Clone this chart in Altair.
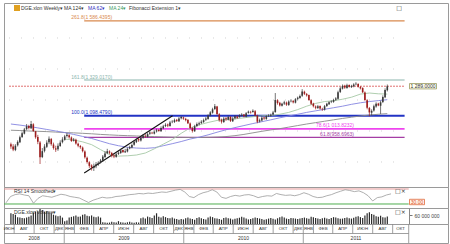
import altair as alt
import pandas as pd

# ---------------- data ----------------
first_week = "2008-07-07"

close = [900,880,905,930,960,985,1010,1030,1020,1045,1000,960,
         930,830,870,900,925,950,915,890,880,905,925,945,
         965,975,960,935,945,920,905,895,870,830,800,775,
         765,770,785,795,810,835,855,870,860,840,835,850,
         860,875,865,870,885,895,910,930,945,940,955,970,
         965,980,990,985,995,1005,1000,1020,1030,1040,1035,1055,
         1060,1070,1065,1080,1090,1080,1070,1050,1020,1000,1030,1045,
         1050,1060,1070,1080,1100,1120,1140,1160,1110,1070,1060,1080,
         1075,1090,1065,1080,1095,1085,1100,1105,1095,1115,1125,1120,
         1130,1100,1060,1070,1085,1080,1095,1100,1105,1120,1200,1180,
         1165,1175,1185,1170,1190,1195,1185,1205,1215,1225,1255,1240,
         1230,1200,1175,1160,1150,1160,1145,1140,1160,1175,1185,1190,
         1200,1210,1250,1275,1290,1280,1295,1285,1290,1300,1305,1285,
         1275,1250,1200,1150,1120,1130,1160,1175,1165,1185,1220,1265,
         1289]
open_ = [915,900,878,908,928,962,983,1012,1032,1018,1043,998,
         962,925,832,872,898,928,948,913,888,882,903,928,
         943,968,973,958,937,943,918,903,893,868,828,798,
         778,762,772,783,797,808,833,857,868,858,842,833,
         852,858,877,863,868,887,893,912,928,947,938,957,
         968,963,982,988,983,997,1007,998,1018,1032,1042,1033,
         1057,1058,1072,1063,1082,1088,1078,1072,1048,1018,998,1032,
         1043,1052,1058,1072,1078,1102,1118,1142,1158,1108,1072,1058,
         1082,1073,1092,1063,1082,1093,1087,1098,1107,1093,1117,1123,
         1122,1128,1098,1062,1068,1087,1078,1097,1098,1107,1122,1198,
         1182,1163,1177,1183,1168,1192,1193,1183,1207,1213,1227,1253,
         1238,1232,1198,1177,1158,1148,1162,1143,1138,1162,1173,1187,
         1188,1202,1208,1252,1273,1292,1278,1297,1283,1288,1302,1303,
         1283,1277,1248,1198,1148,1118,1132,1158,1177,1163,1187,1218,
         1263]
high = [925,915,915,940,970,995,1020,1045,1040,1065,1050,1000,
        975,935,890,915,940,965,955,925,905,920,940,960,
        975,987,980,965,955,950,925,910,900,875,835,805,
        785,790,800,805,820,845,870,885,875,865,850,860,
        870,885,880,885,895,905,920,940,955,955,965,980,
        980,990,1000,995,1005,1015,1012,1030,1040,1050,1048,1065,
        1070,1080,1078,1090,1097,1092,1085,1075,1055,1025,1040,1055,
        1060,1070,1080,1090,1108,1128,1150,1174,1162,1115,1080,1090,
        1090,1100,1095,1090,1102,1100,1108,1115,1110,1122,1132,1130,
        1140,1135,1105,1080,1095,1092,1102,1108,1112,1130,1245,1205,
        1188,1182,1195,1190,1198,1205,1200,1212,1222,1235,1270,1260,
        1245,1235,1205,1182,1165,1168,1165,1150,1168,1182,1192,1198,
        1208,1218,1260,1285,1300,1298,1305,1300,1298,1308,1315,1308,
        1290,1282,1255,1205,1155,1140,1170,1185,1182,1195,1230,1275,
        1300]
low = [885,870,870,900,922,955,978,1005,1010,1012,995,950,
       915,787,825,862,890,915,905,880,865,872,898,920,
       938,958,950,930,932,912,895,885,862,822,790,762,
       745,742,760,775,790,800,825,850,850,830,825,828,
       845,852,858,858,862,882,888,905,922,930,932,950,
       958,958,975,980,978,990,995,995,1012,1025,1025,1028,
       1050,1052,1058,1058,1075,1072,1062,1045,1012,990,995,1025,
       1035,1045,1052,1065,1072,1095,1112,1135,1100,1060,1048,1052,
       1065,1068,1058,1058,1075,1078,1090,1095,1088,1088,1112,1112,
       1118,1095,1050,1055,1062,1072,1072,1090,1092,1100,1118,1170,
       1158,1158,1168,1162,1162,1185,1178,1178,1198,1208,1220,1232,
       1222,1195,1168,1152,1140,1142,1138,1130,1132,1155,1168,1180,
       1182,1195,1202,1245,1268,1272,1272,1280,1278,1282,1295,1280,
       1268,1245,1195,1140,1095,1100,1125,1150,1160,1110,1180,1212,
       1255]
volume_m = [75,70,65,48,45,42,40,45,50,
            60,80,88,90,105,98,85,90,82,75,
            65,60,55,58,45,20,25,
            45,50,55,60,50,52,65,68,58,55,60,50,48,52,45,
            12,10,8,10,15,12,10,20,12,10,8,12,15,10,8,12,10,
            40,45,38,52,48,42,60,75,50,45,55,48,42,40,45,38,35,
            30,35,32,40,45,38,35,30,42,48,40,35,32,45,52,48,40,38,35,30,
            42,45,40,38,32,36,40,44,50,45,38,32,35,40,46,42,38,35,30,34,
            38,42,36,32,40,48,52,45,38,35,42,40,38,
            35,38,42,45,40,36,50,48,42,38,35,40,44,38,35,42,48,45,40,36,
            38,42,46,40,38,44,50,55,48,42,60,75,82,70,65,55,50,58,48,45,52]
# RSI, one value every second week
rsi_vals = [33,50,55,57,54,52,32,45,52,50,48,52,56,54,50,48,46,40,34,40,
            44,48,46,47,50,51,53,55,56,58,57,59,58,60,62,61,64,67,69,62,
            50,47,55,60,63,68,62,48,45,50,53,51,54,55,52,47,50,52,51,58,
            55,53,54,52,55,60,56,50,47,48,52,55,60,64,68,66,63,65,60,52,
            38,47,49,54,57]
# moving averages, one value every fourth week
ma124 = [1005,1003,1000,998,996,993,990,988,985,982,978,975,972,970,968,966,
         964,962,960,959,958,958,959,961,964,970,978,988,998,1007,1015,1025,
         1035,1045,1054,1063,1072,1081,1089,1097,1103,1108,1112]
ma62 = [1045,1038,1030,1020,1010,1000,990,978,965,952,935,918,905,895,890,888,
        892,905,918,932,948,960,975,992,1008,1022,1035,1048,1060,1072,1085,1097,
        1108,1120,1130,1140,1150,1160,1172,1182,1190,1196,1202]
ma24 = [948,942,930,912,880,848,838,840,845,858,885,915,945,985,1020,1040,
        1055,1068,1075,1078,1085,1092,1098,1100,1108,1120,1138,1160,1178,1190,
        1195,1205,1218,1238,1245,1240,1238]

fib_text = ["261.8(1 586.4395)", "161.8(1 329.0170)", "100.0(1 098.4790)",
            "78.6(1 013.8232)", "61.8(958.6963)"]
fib_level = [1710, 1329.017, 1098.479, 1013.8232, 958.6963]
last_price = 1289
trend_start = ("2009-02-21", 729)
trend_end = ("2009-11-24", 1098.479)

month_ticks = ["2008-08-01","2008-10-01","2008-12-01",
               "2009-01-01","2009-02-01","2009-04-01","2009-06-01","2009-08-01","2009-10-01","2009-12-01",
               "2010-01-01","2010-02-01","2010-04-01","2010-06-01","2010-08-01","2010-10-01","2010-12-01",
               "2011-01-01","2011-02-01","2011-04-01","2011-06-01","2011-08-01","2011-10-01"]
month_names = ["ИЮН","АВГ","ОКТ","ДЕК",
               "ЯНВ","ФЕВ","АПР","ИЮН","АВГ","ОКТ","ДЕК",
               "ЯНВ","ФЕВ","АПР","ИЮН","АВГ","ОКТ","ДЕК",
               "ЯНВ","ФЕВ","АПР","ИЮН","АВГ","ОКТ"]
year_ticks = ["2009-01-01","2010-01-01","2011-01-01"]
year_names = ["2008","2009","2010","2011"]

# ---------------- layout / style ----------------
VIEW_START = "2008-07-01"
AXIS_END = "2011-11-19"
FIB_START = "2009-02-21"
FIB_RIGHT_LABEL = "2011-06-14"
W = 444
FONT = "Liberation Sans"
FS = 5
UP, DOWN = "#3a3a3a", "#9c1c1c"
fib_colors = ["#d98a4e", "#8bb5ad", "#2233c4", "#ee44ee", "#a43ea4"]
fib_widths = [1.2, 1.2, 2.0, 1.8, 1.3]

def ts(s):
    return pd.Timestamp(s)

xs = alt.Scale(domain=[alt.DateTime(year=2008, month=7, date=1),
                       alt.DateTime(year=2012, month=3, date=18)])

def X(field):
    return alt.X(f"{field}:T", scale=xs, axis=None)

def axis(values, expr):
    return alt.Axis(orient="right", offset=-39, values=values, labelExpr=expr,
                    labelFontSize=FS, labelFont=FONT, labelColor="#444",
                    tickSize=3, tickColor="#777", domainColor="#888", grid=False,
                    title=None, labelPadding=2)

dates = pd.date_range(first_week, periods=len(close), freq="7D")
df = pd.DataFrame({"date": dates, "open": open_, "high": high, "low": low, "close": close,
                   "vol": volume_m})
df["col"] = [UP if c >= o else DOWN for o, c in zip(open_, close)]

# ---------------- main price panel ----------------
ys = alt.Scale(domain=[638.7, 1825.8], nice=False, zero=False)
price_axis = axis([800, 1000, 1200, 1400, 1600], "replace(format(datum.value, ',.4f'), ',', ' ')")

grid_df = pd.DataFrame({"y": [800, 1000, 1200, 1400, 1600],
                        "x0": ts(VIEW_START), "x1": ts(AXIS_END)})
grid = alt.Chart(grid_df).mark_rule(color="#c8c8c8", strokeWidth=0.8, strokeDash=[1, 11]).encode(
    x=X("x0"), x2="x1", y=alt.Y("y:Q", scale=ys, axis=price_axis))

fib_df = pd.DataFrame({"label": fib_text, "y": fib_level, "color": fib_colors, "w": fib_widths,
                       "x0": ts(FIB_START), "x1": ts(AXIS_END),
                       "xl": [ts(FIB_START)] * 3 + [ts(FIB_RIGHT_LABEL)] * 2})
fib_lines = alt.Chart(fib_df).mark_rule().encode(
    x=X("x0"), x2="x1", y=alt.Y("y:Q", scale=ys, axis=None),
    color=alt.Color("color:N", scale=None), strokeWidth=alt.StrokeWidth("w:Q", scale=None))
fib_left = alt.Chart(fib_df.iloc[:3]).mark_text(align="left", baseline="bottom", dx=-13, dy=-0.5,
                                                  fontSize=FS, font=FONT).encode(
    x=X("xl"), y=alt.Y("y:Q", scale=ys, axis=None), text="label:N",
    color=alt.Color("color:N", scale=None))
fib_right = alt.Chart(fib_df.iloc[3:]).mark_text(align="right", baseline="bottom", dy=-0.5,
                                                   fontSize=FS, font=FONT).encode(
    x=X("xl"), y=alt.Y("y:Q", scale=ys, axis=None), text="label:N",
    color=alt.Color("color:N", scale=None))

last_df = pd.DataFrame({"y": [last_price], "x0": ts(VIEW_START), "x1": ts(AXIS_END),
                        "t": [f"{last_price:,.4f}".replace(",", " ")]})
last_line = alt.Chart(last_df).mark_rule(color="#e07070", strokeWidth=1, strokeDash=[2, 1]).encode(
    x=X("x0"), x2="x1", y=alt.Y("y:Q", scale=ys, axis=None))
last_box = alt.Chart(last_df).mark_point(
    shape="M-1,-0.2L1,-0.2L1,0.2L-1,0.2Z", size=27 * 27, filled=False, fill="#fffff0",
    stroke="#9a9a60", strokeWidth=0.8, opacity=1).encode(
    x=alt.value(419), y=alt.Y("y:Q", scale=ys, axis=None))
last_txt = alt.Chart(last_df).mark_text(fontSize=FS, font=FONT, color="#333").encode(
    x=alt.value(419), y=alt.Y("y:Q", scale=ys, axis=None), text="t:N")

trend_df = pd.DataFrame({"date": [ts(trend_start[0]), ts(trend_end[0])],
                         "y": [trend_start[1], trend_end[1]]})
trend = alt.Chart(trend_df).mark_line(color="#111", strokeWidth=1.1).encode(
    x=X("date"), y=alt.Y("y:Q", scale=ys, axis=None))

ma_df = pd.concat([
    pd.DataFrame({"date": dates[::4], "v": ma124, "s": "MA 124"}),
    pd.DataFrame({"date": dates[::4], "v": ma62, "s": "MA 62"}),
    pd.DataFrame({"date": dates[24::4], "v": ma24, "s": "MA 24"}),
])
ma_lines = alt.Chart(ma_df).mark_line(strokeWidth=0.9).encode(
    x=X("date"), y=alt.Y("v:Q", scale=ys, axis=None),
    color=alt.Color("s:N", scale=alt.Scale(domain=["MA 124", "MA 62", "MA 24"],
                                           range=["#8a8a8a", "#8484e0", "#a6c8a6"]), legend=None),
    detail="s:N")

wick = alt.Chart(df).mark_rule(strokeWidth=0.7).encode(
    x=X("date"), y=alt.Y("low:Q", scale=ys, axis=None), y2="high:Q",
    color=alt.Color("col:N", scale=None))
body = alt.Chart(df).mark_bar(width=1.6).encode(
    x=X("date"), y=alt.Y("open:Q", scale=ys, axis=None), y2="close:Q",
    color=alt.Color("col:N", scale=None))

head_df = pd.DataFrame({"t": ["DGE.xlon Weekly▾", "MA 124▾", "MA 62▾", "MA 24▾", "Fibonacci Extension 1▾"],
                        "x": [17, 60, 84, 105, 125],
                        "c": ["#333", "#333", "#3030c0", "#3c9c64", "#333"]})
header = alt.Chart(head_df).mark_text(align="left", baseline="middle", fontSize=FS, font=FONT).encode(
    x=alt.X("x:Q", scale=None), y=alt.value(5), text="t:N", color=alt.Color("c:N", scale=None))
icon = alt.Chart(pd.DataFrame({"a": [1]})).mark_point(shape="square", filled=True, size=36,
                                                      color="#e0a020", opacity=1).encode(
    x=alt.value(13), y=alt.value(5))
maxbox = alt.Chart(pd.DataFrame({"t": ["□"]})).mark_text(
    fontSize=6, font="DejaVu Sans", color="#333", baseline="middle").encode(
    x=alt.value(395), y=alt.value(5), text="t:N")

main = alt.layer(grid, fib_lines, fib_left, fib_right, last_line, ma_lines, trend, wick, body,
                 last_box, last_txt, header, icon, maxbox).properties(width=W, height=184)

# ---------------- RSI panel ----------------
yr = alt.Scale(domain=[19.3, 75.3], nice=False, zero=False)
rsi_axis = axis([60], "format(datum.value, '.2f')")
lev_df = pd.DataFrame({"y": [70, 30], "c": ["#e59a9a", "#4fae4f"], "x0": ts(VIEW_START),
                       "x1": ts(AXIS_END)})
rsi_lev = alt.Chart(lev_df).mark_rule(strokeWidth=1).encode(
    x=X("x0"), x2="x1", y=alt.Y("y:Q", scale=yr, axis=rsi_axis), color=alt.Color("c:N", scale=None))
rsi_df = pd.DataFrame({"date": dates[::2], "v": rsi_vals})
rsi_line = alt.Chart(rsi_df).mark_line(color="#9a9a9a", strokeWidth=0.8).encode(
    x=X("date"), y=alt.Y("v:Q", scale=yr, axis=None))
box_df = pd.DataFrame({"y": [30], "t": ["30.00"]})
rsi_box = alt.Chart(box_df).mark_point(
    shape="M-1,-0.36L1,-0.36L1,0.36L-1,0.36Z", size=15 * 15, filled=False, fill="#fff6ee",
    stroke="#e06a3a", strokeWidth=0.8, opacity=1).encode(
    x=alt.value(413), y=alt.Y("y:Q", scale=yr, axis=None), yOffset=alt.value(-2))
rsi_btxt = alt.Chart(box_df).mark_text(fontSize=FS, font=FONT, color="#e05020").encode(
    x=alt.value(413), y=alt.Y("y:Q", scale=yr, axis=None), yOffset=alt.value(-2), text="t:N")
rsi_title = alt.Chart(pd.DataFrame({"t": ["RSI 14 Smoothed▾"]})).mark_text(
    align="left", baseline="middle", fontSize=FS, font=FONT, color="#333").encode(
    x=alt.value(10), y=alt.value(4), text="t:N")
rsi_icon = alt.Chart(pd.DataFrame({"t": ["□×"]})).mark_text(
    align="left", baseline="middle", fontSize=6, font="DejaVu Sans", color="#333").encode(
    x=alt.value(391), y=alt.value(4), text="t:N")
rsi = alt.layer(rsi_lev, rsi_line, rsi_box, rsi_btxt, rsi_title, rsi_icon).properties(width=W, height=21)

# ---------------- volume panel ----------------
yv = alt.Scale(domain=[0, 112], nice=False, zero=True)
vol_axis = axis([60], "replace(format(datum.value * 1000000, ','), regexp(',', 'g'), ' ')")
vol_bars = alt.Chart(df).mark_bar(width=1.2, color="#2a2a2a").encode(
    x=X("date"), y=alt.Y("vol:Q", scale=yv, axis=vol_axis))
vol_title = alt.Chart(pd.DataFrame({"t": ["DGE.xlon Volume▾"]})).mark_text(
    align="left", baseline="middle", fontSize=FS, font=FONT, color="#333").encode(
    x=alt.value(10), y=alt.value(4), text="t:N")
vol_icon = alt.Chart(pd.DataFrame({"t": ["□×"]})).mark_text(
    align="left", baseline="middle", fontSize=6, font="DejaVu Sans", color="#333").encode(
    x=alt.value(391), y=alt.value(4), text="t:N")
vol = alt.layer(vol_bars, vol_title, vol_icon).properties(width=W, height=16)

# ---------------- time axis panel ----------------
yt = alt.Scale(domain=[0, 2], nice=False, zero=False)
bounds_m = [ts(VIEW_START)] + [ts(d) for d in month_ticks] + [ts(AXIS_END)]
mlab = pd.DataFrame({"date": [bounds_m[i] + (bounds_m[i + 1] - bounds_m[i]) / 2 for i in range(len(month_names))],
                     "t": month_names, "y": 1.5})
bounds_y = [ts(VIEW_START)] + [ts(d) for d in year_ticks] + [ts(AXIS_END)]
ylab = pd.DataFrame({"date": [bounds_y[i] + (bounds_y[i + 1] - bounds_y[i]) / 2 for i in range(len(year_names))],
                     "t": year_names, "y": 0.5})
mt = pd.DataFrame({"date": [ts(d) for d in month_ticks], "y0": 1, "y1": 2})
yt_df = pd.DataFrame({"date": [ts(d) for d in year_ticks] + [ts(AXIS_END)],
                      "y0": [0, 0, 0, 0], "y1": [1, 1, 1, 2]})
hline = pd.DataFrame({"x0": [ts(VIEW_START)], "x1": [ts(AXIS_END)], "y": [1]})
t_mt = alt.Chart(mt).mark_rule(color="#888", strokeWidth=0.8).encode(
    x=X("date"), y=alt.Y("y0:Q", scale=yt, axis=None), y2="y1:Q")
t_yt = alt.Chart(yt_df).mark_rule(color="#888", strokeWidth=0.8).encode(
    x=X("date"), y=alt.Y("y0:Q", scale=yt, axis=None), y2="y1:Q")
t_h = alt.Chart(hline).mark_rule(color="#888", strokeWidth=0.8).encode(
    x=X("x0"), x2="x1", y=alt.Y("y:Q", scale=yt, axis=None))
t_m = alt.Chart(mlab).mark_text(fontSize=4.4, font=FONT, color="#333", baseline="middle").encode(
    x=X("date"), y=alt.Y("y:Q", scale=yt, axis=None), text="t:N")
t_y = alt.Chart(ylab).mark_text(fontSize=FS, font=FONT, color="#333", baseline="middle").encode(
    x=X("date"), y=alt.Y("y:Q", scale=yt, axis=None), text="t:N")
timep = alt.layer(t_mt, t_yt, t_h, t_m, t_y).properties(width=W, height=19)

chart = alt.vconcat(main, rsi, vol, timep, spacing=0, bounds="flush").properties(
    padding={"left": 3, "top": 2, "right": 0, "bottom": 0},
    background="white"
).configure_view(stroke="#9a9a9a", strokeWidth=1).configure_concat(spacing=0)

chart.save("out.html", embed_options={"renderer": "svg", "actions": False})
